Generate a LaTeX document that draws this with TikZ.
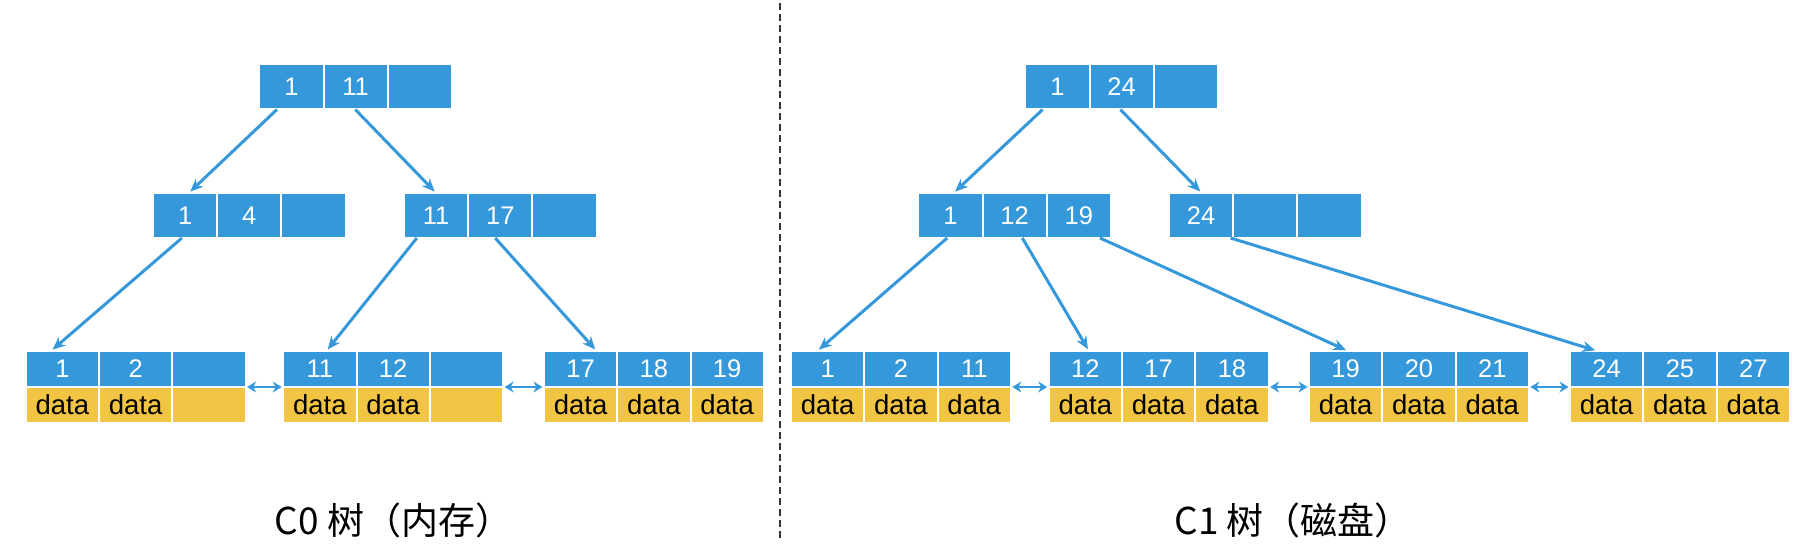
\documentclass[tikz,border=0pt]{standalone}
\usepackage{fontspec}
\setmainfont{Liberation Sans}
\newfontfamily\cjkfont{Noto Sans CJK SC}
\usetikzlibrary{arrows.meta,calc}
\definecolor{nodeblue}{HTML}{3598DB}
\definecolor{datayellow}{HTML}{F2C443}
\definecolor{divgray}{HTML}{333333}
\tikzset{
  keycell/.style={draw=white, line width=2pt, fill=nodeblue, text=white,
    minimum width=64.2pt, minimum height=45pt, inner sep=0pt, outer sep=0pt,
    font=\fontsize{25.5}{30}\selectfont},
  leafkey/.style={keycell, minimum width=73.3pt, minimum height=36pt},
  leafdata/.style={leafkey, fill=datayellow, text=black, font=\fontsize{27.5}{30}\selectfont},
  ptr/.style={draw=nodeblue, line width=3pt, -{Stealth[length=13pt,width=11pt]}, shorten >=2pt},
  sib/.style={draw=nodeblue, line width=2.8pt,
    {Stealth[length=9pt,width=11pt]}-{Stealth[length=9pt,width=11pt]},
    shorten >=1.5pt, shorten <=1.5pt},
  divider/.style={draw=divgray, line width=2pt, dash pattern=on 7pt off 4pt},
  caption/.style={font=\cjkfont\fontsize{37}{40}\selectfont, anchor=base, inner sep=0pt}
}
% #1 name, #2 left x, #3 centre y, #4 keys
\newcommand\innerrow[4]{%
  \foreach \k [count=\i] in {#4}
    \node[keycell] (#1\i) at ({#2+64.2*(\i-0.5)},#3) {\k};}
% #1 name, #2 left x, #3 keys, #4 data
\newcommand\leafrow[4]{%
  \foreach \k [count=\i] in {#3}
    \node[leafkey] (#1k\i) at ({#2+73.3*(\i-0.5)},369) {\k};
  \foreach \d [count=\i] in {#4}
    \node[leafdata] (#1d\i) at ({#2+73.3*(\i-0.5)},405) {\d};}
\newcommand\cnx[4]{%
  \draw[ptr] ($(#1.south west)!#2!(#1.south east)$) -- ($(#3.north west)!#4!(#3.north east)$);}
\begin{document}
\begin{tikzpicture}[x=1pt,y=-1pt]
\useasboundingbox (0,0) rectangle (1808,545);
% ---- C0 tree ----
\innerrow{lr}{259.3}{87}{1,11,{}}
\innerrow{la}{153}{215.5}{1,4,{}}
\innerrow{lb}{404}{215.5}{11,17,{}}
\leafrow{lx}{25.7}{1,2,{}}{data,data,{}}
\leafrow{ly}{283.2}{11,12,{}}{data,data,{}}
\leafrow{lz}{543.9}{17,18,19}{data,data,data}
\cnx{lr1}{0.275}{la1}{0.557}
\cnx{lr2}{0.495}{lb1}{0.5}
\cnx{la1}{0.45}{lxk1}{0.345}
\cnx{lb1}{0.2}{lyk1}{0.59}
\cnx{lb2}{0.42}{lzk1}{0.72}
\draw[sib] (lxk3.south east) -- (lyk1.south west);
\draw[sib] (lyk3.south east) -- (lzk1.south west);
% ---- C1 tree ----
\innerrow{rr}{1025.3}{87}{1,24,{}}
\innerrow{ra}{918.3}{215.5}{1,12,19}
\innerrow{rb}{1169}{215.5}{24,{},{}}
\leafrow{rw}{791}{1,2,11}{data,data,data}
\leafrow{rx}{1048.7}{12,17,18}{data,data,data}
\leafrow{ry}{1309}{19,20,21}{data,data,data}
\leafrow{rz}{1570}{24,25,27}{data,data,data}
\cnx{rr1}{0.27}{ra1}{0.55}
\cnx{rr2}{0.48}{rb1}{0.51}
\cnx{ra1}{0.45}{rwk1}{0.36}
\cnx{ra2}{0.62}{rxk1}{0.55}
\cnx{ra3}{0.83}{ryk1}{0.53}
\cnx{rb1}{0.96}{rzk1}{0.37}
\draw[sib] (rwk3.south east) -- (rxk1.south west);
\draw[sib] (rxk3.south east) -- (ryk1.south west);
\draw[sib] (ryk3.south east) -- (rzk1.south west);
% ---- divider and captions ----
\coordinate (divtop) at (780,3);
\coordinate (divbot) at (780,540);
\draw[divider] (divtop) -- (divbot);
\node[caption] (cap0) at (393.3,534) {C0 树（内存）};
\node[caption] (cap1) at (1293.2,534) {C1 树（磁盘）};
\end{tikzpicture}
\end{document}
